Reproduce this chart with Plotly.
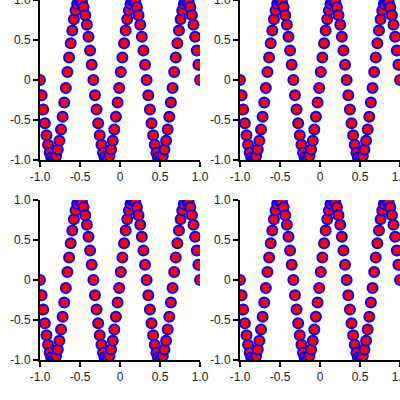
import plotly.graph_objects as go

# sample positions (same wave in every panel)
x_vals = [
    -1.000, -0.980, -0.960, -0.939, -0.919, -0.899, -0.879, -0.859, -0.838, -0.818,
    -0.798, -0.778, -0.758, -0.737, -0.717, -0.697, -0.677, -0.657, -0.636, -0.616,
    -0.596, -0.576, -0.556, -0.535, -0.515, -0.495, -0.475, -0.455, -0.434, -0.414,
    -0.394, -0.374, -0.354, -0.333, -0.313, -0.293, -0.273, -0.253, -0.232, -0.212,
    -0.192, -0.172, -0.152, -0.131, -0.111, -0.091, -0.071, -0.051, -0.030, -0.010,
    0.010, 0.030, 0.051, 0.071, 0.091, 0.111, 0.131, 0.152, 0.172, 0.192,
    0.212, 0.232, 0.253, 0.273, 0.293, 0.313, 0.333, 0.354, 0.374, 0.394,
    0.414, 0.434, 0.455, 0.475, 0.495, 0.515, 0.535, 0.556, 0.576, 0.596,
    0.616, 0.636, 0.657, 0.677, 0.697, 0.717, 0.737, 0.758, 0.778, 0.798,
    0.818, 0.838, 0.859, 0.879, 0.899, 0.919, 0.939, 0.960, 0.980, 1.000,
]
y_vals = [
    0.00, -0.19, -0.37, -0.54, -0.69, -0.81, -0.91, -0.97, -1.00, -0.99,
    -0.95, -0.87, -0.76, -0.62, -0.46, -0.28, -0.10, 0.10, 0.28, 0.46,
    0.62, 0.76, 0.87, 0.95, 0.99, 1.00, 0.97, 0.91, 0.81, 0.69,
    0.54, 0.37, 0.19, 0.00, -0.19, -0.37, -0.54, -0.69, -0.81, -0.91,
    -0.97, -1.00, -0.99, -0.95, -0.87, -0.76, -0.62, -0.46, -0.28, -0.10,
    0.10, 0.28, 0.46, 0.62, 0.76, 0.87, 0.95, 0.99, 1.00, 0.97,
    0.91, 0.81, 0.69, 0.54, 0.37, 0.19, 0.00, -0.19, -0.37, -0.54,
    -0.69, -0.81, -0.91, -0.97, -1.00, -0.99, -0.95, -0.87, -0.76, -0.62,
    -0.46, -0.28, -0.10, 0.10, 0.28, 0.46, 0.62, 0.76, 0.87, 0.95,
    0.99, 1.00, 0.97, 0.91, 0.81, 0.69, 0.54, 0.37, 0.19, 0.00,
]

tick_vals = [-1.0, -0.5, 0, 0.5, 1.0]
tick_text = ["-1.0", "-0.5", "0", "0.5", "1.0"]

fig = go.Figure()

# panel domains: 160px plots with 40px gaps
col_dom = [[0, 160 / 360], [200 / 360, 1]]
row_dom = [[200 / 360, 1], [0, 160 / 360]]

n = 0
for r in range(2):
    for c in range(2):
        n += 1
        sfx = "" if n == 1 else str(n)
        fig.add_trace(go.Scatter(
            x=x_vals, y=y_vals, mode="markers",
            marker=dict(size=10, color="red", line=dict(color="blue", width=2)),
            xaxis="x" + sfx, yaxis="y" + sfx, showlegend=False,
        ))
        ax = dict(range=[-1, 1], showgrid=False, zeroline=False, showline=True,
                  linecolor="black", linewidth=2, ticks="outside", ticklen=5,
                  tickcolor="black", tickwidth=1.5, tickvals=tick_vals, ticktext=tick_text,
                  automargin=False, ticklabeloverflow="allow",
                  tickfont=dict(family="Liberation Sans, Arial", size=12, color="#222"))
        fig.layout["xaxis" + sfx] = dict(ax, domain=col_dom[c], anchor="y" + sfx)
        fig.layout["yaxis" + sfx] = dict(ax, domain=row_dom[r], anchor="x" + sfx)

fig.update_layout(
    width=400, height=400,
    margin=dict(l=40, r=0, t=0, b=40),
    plot_bgcolor="white", paper_bgcolor="white",
)

# page has default body margin; drop it so the figure sits at the corner
fig.write_html("out.html", config={"displayModeBar": False},
               post_script="document.body.style.margin='0';")
